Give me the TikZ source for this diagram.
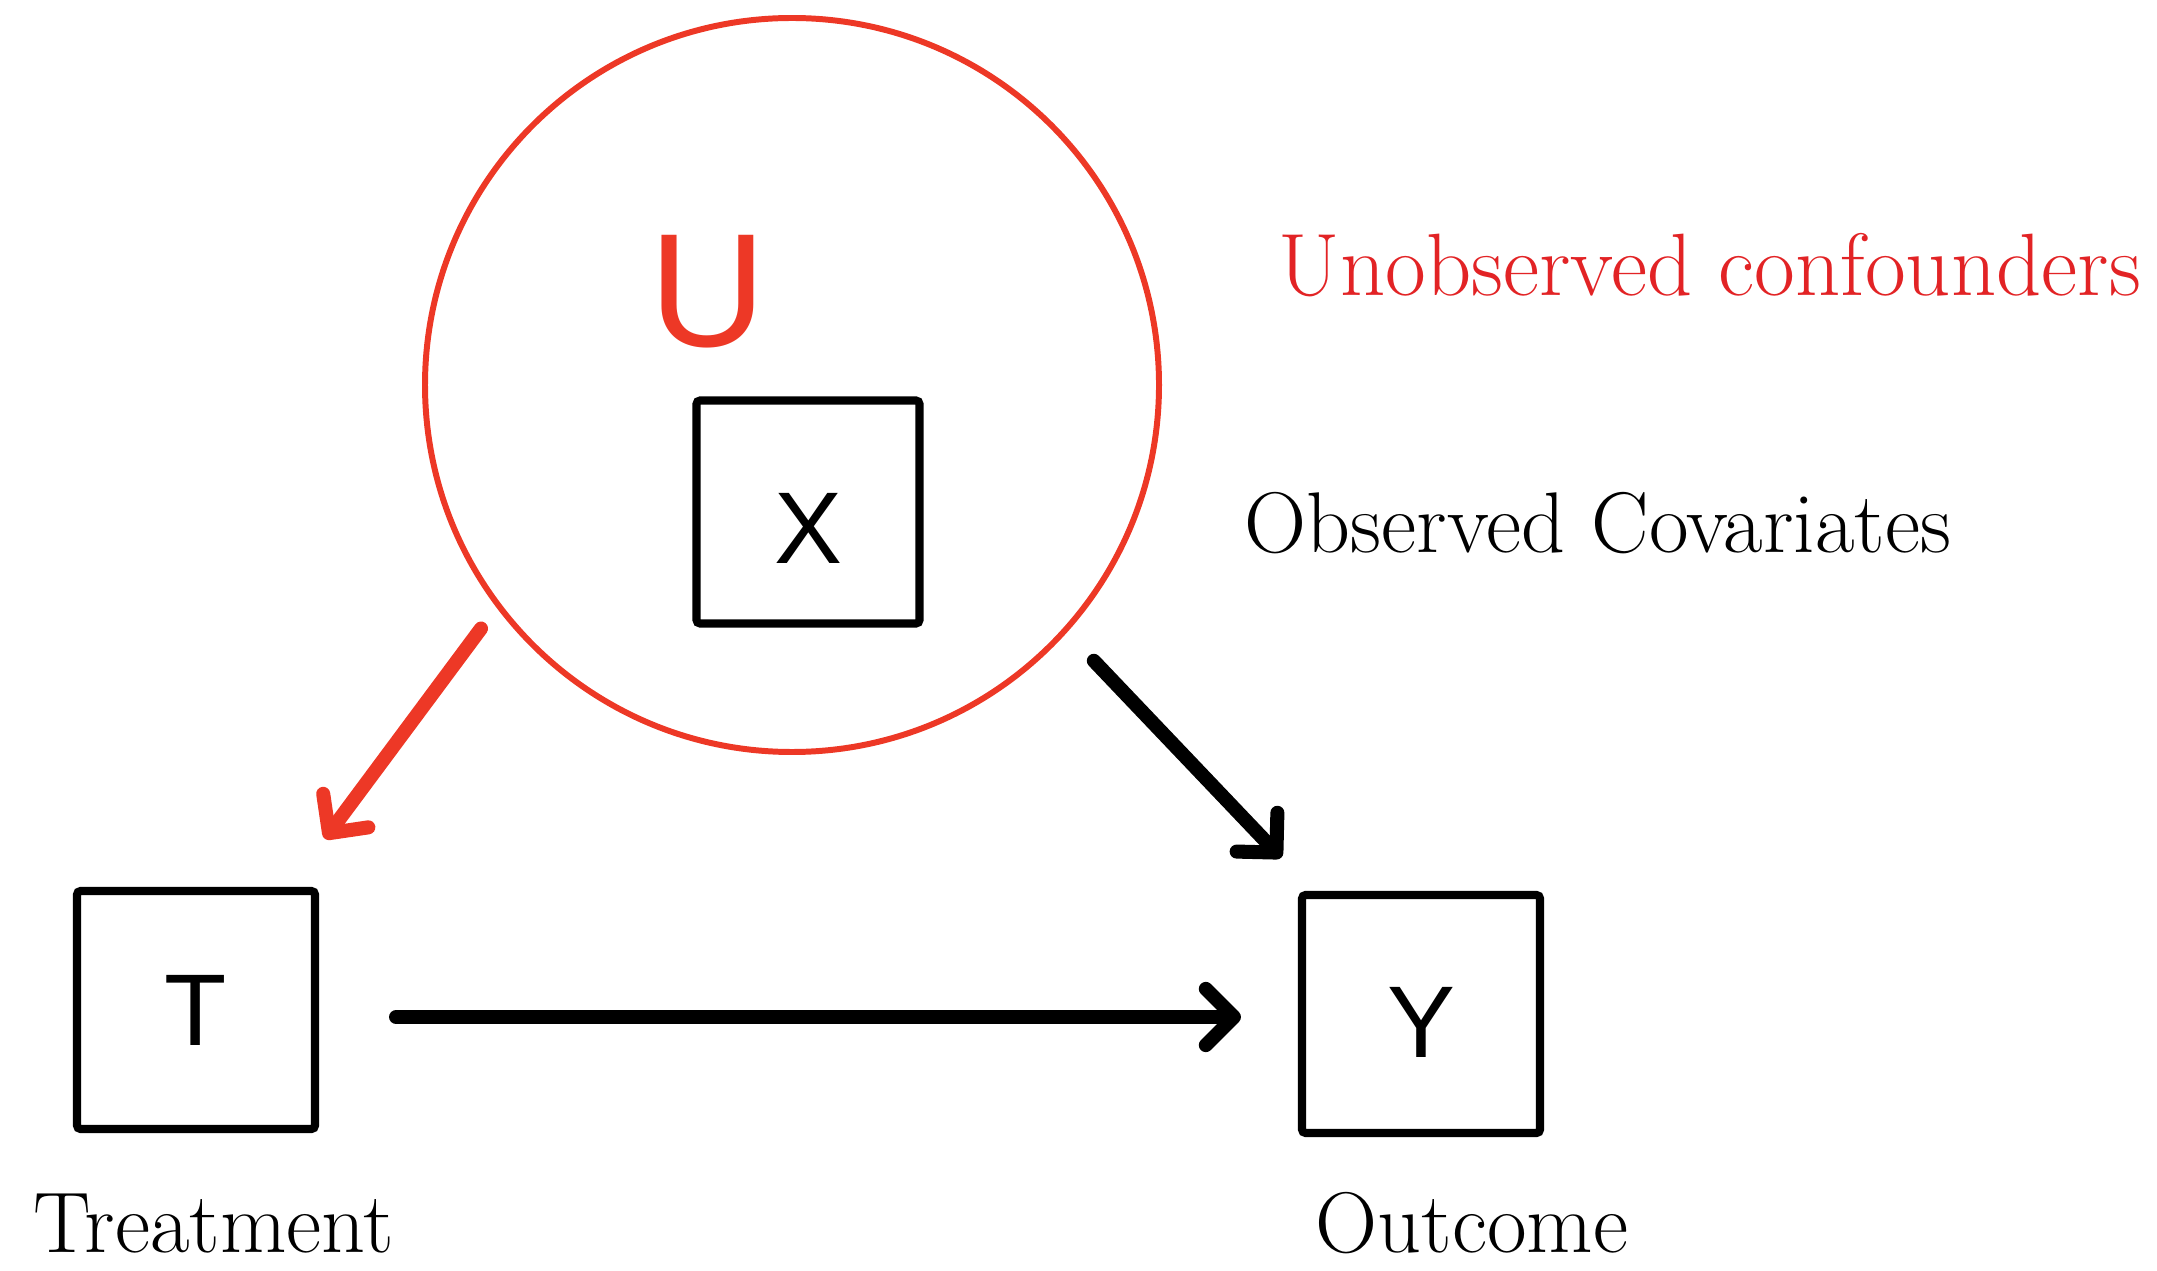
\documentclass[tikz,border=0pt]{standalone}
\usepackage{fontspec}
\newfontfamily\letterfont{Liberation Sans}
\usetikzlibrary{arrows.meta}
\definecolor{confred}{RGB}{237,56,38}
\definecolor{labelred}{RGB}{226,35,37}
\begin{document}
\begin{tikzpicture}[
    varbox/.style={
      draw=black,
      line width=2.3pt,
      rounded corners=1pt,
      minimum size=2.38cm,
      inner sep=0pt,
      font=\letterfont\fontsize{29}{32}\selectfont
    },
    caption/.style={
      anchor=base west,
      inner sep=0pt,
      font=\fontsize{24.5}{28}\selectfont
    },
    causal/.style={
      line width=4pt,
      line cap=round,
      -{Straight Barb[length=8pt,width=16pt,round]}
    }
  ]
    \useasboundingbox (0,0) rectangle (21.57,-12.71);
    % confounders
    \node[circle, draw=confred, line width=1.7pt, minimum size=7.34cm] (circ) at (7.92,-3.85) {};
    \node[text=confred, inner sep=0pt, font=\letterfont\fontsize{46}{50}\selectfont] (U) at (7.08,-2.92) {U};
    \node[varbox, minimum size=2.23cm, text height=1.03cm, text depth=0pt] (X) at (8.08,-5.12) {X};
    \node[varbox] (T) at (1.96,-10.10) {T};
    \node[varbox, text height=0.87cm, text depth=0pt] (Y) at (14.21,-10.14) {Y};
    % labels
    \node[caption, text=labelred, font=\fontsize{25.2}{29}\selectfont] (unobs) at (12.78,-2.96) {Unobserved confounders};
    \node[caption] (obs) at (12.44,-5.53) {Observed Covariates};
    \node[caption] (treat) at (0.33,-12.52) {Treatment};
    \node[caption] (outc) at (13.15,-12.52) {Outcome};
    % arrows
    \draw[causal, draw=confred, shorten <=0.26cm, shorten >=0.6cm] (circ.217) -- ([xshift=-3mm]T.north east);
    \draw[causal, shorten <=0.39cm, shorten >=0.46cm] (circ.318) -- ([xshift=1.5mm]Y.north west);
    \draw[causal, shorten <=0.77cm, shorten >=0.57cm] ([yshift=-0.7mm]T.east) -- ([yshift=-0.7mm]T.east -| Y.west);
  \end{tikzpicture}
\end{document}
